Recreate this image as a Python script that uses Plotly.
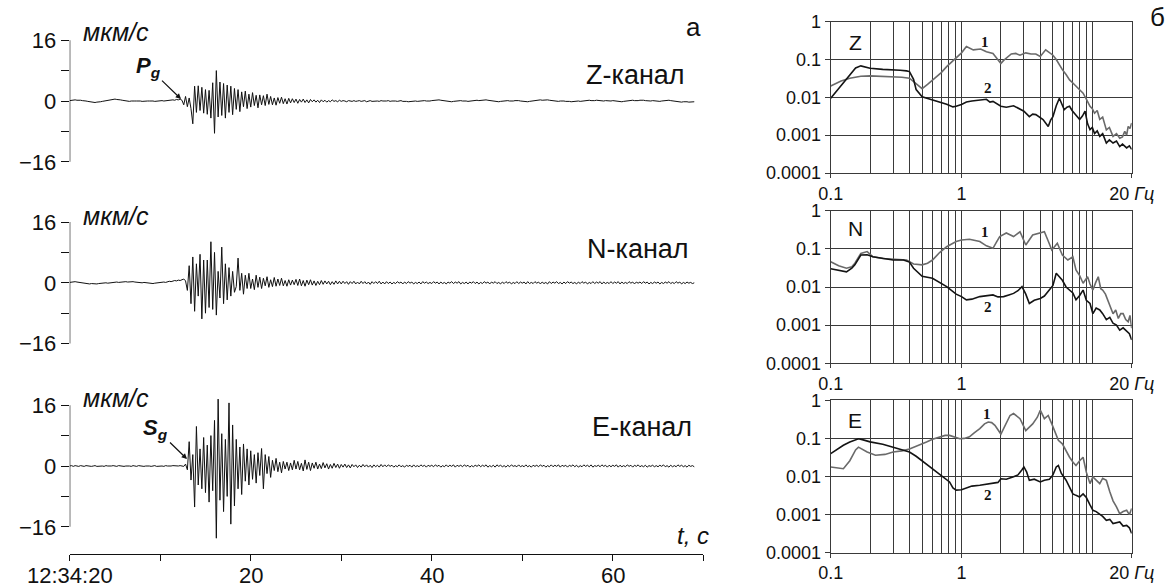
import numpy as np
import plotly.graph_objects as go

W, H = 1173, 587
DT = 0.2

# ---------------- seismograms (мкм/с), one value every 0.2 s from 12:34:20 ----------------
z_vel = [
    0.1, 0.2, 0.3, 0.3, 0.2, 0.3, 0.2, 0.1, 0.1, 0.0, -0.1, -0.2, -0.3, -0.4, -0.4, -0.3, -0.3, -0.2, -0.1, 0.0, 0.1, 0.2, 0.3, 0.4, 0.4,
    0.5, 0.4, 0.4, 0.3, 0.2, 0.1, 0.0, 0.0, -0.1, 0.0, -0.1, 0.0, 0.0, 0.1, 0.0, -0.1, 0.0, 0.1, 0.0, 0.0, 0.1, 0.0, -0.1, 0.0, 0.1,
    0.0, 0.1, 0.0, 0.1, 0.2, 0.1, 0.2, 0.3, 0.2, 0.4, 0.3, 0.5, 0.2, -1.0, 1.2, -1.5, 0.8, -2.0, -6.0, 3.9, -3.0, 4.0, -2.5, 3.6, -3.2,
    3.0, -3.5, 2.8, -4.5, 4.8, -8.5, 8.0, -4.2, 5.0, -3.8, 4.6, -4.5, 4.2, -3.0, 3.9, -3.6, 3.3, -2.2, 3.0, -2.8, 2.4, -1.5, 2.6, -2.0, 1.8,
    -1.6, 2.2, -1.2, 1.5, -1.8, 1.6, -1.0, 1.4, -1.2, 1.8, -0.9, 1.2, -1.0, 0.8, -1.1, 0.9, -0.6, 1.0, -0.7, 0.6, -0.8, 0.7, -0.5, 0.6, -0.4,
    0.5, -0.6, 0.4, -0.3, 0.5, -0.4, 0.3, -0.5, 0.4, -0.2, 0.3, -0.3, 0.2, -0.4, 0.3, -0.2, 0.2, -0.3, 0.1, -0.2, 0.3, -0.1, 0.1, -0.2, 0.2,
    -0.1, 0.1, 0.0, -0.2, 0.1, 0.0, -0.1, 0.1, -0.1, 0.0, 0.1, -0.1, 0.0, 0.1, -0.2, 0.0, 0.1, -0.1, 0.0, 0.1, 0.0, -0.1, 0.1, 0.0, -0.1,
    0.0, 0.1, -0.1, 0.0, 0.1, 0.0, -0.1, 0.0, 0.1, -0.1, 0.0, -0.1, -0.2, -0.1, -0.2, -0.1, 0.0, -0.1, 0.0, 0.1, 0.0, 0.1, 0.0, -0.1, 0.0,
    0.1, 0.2, 0.1, 0.2, 0.3, 0.2, 0.1, 0.0, -0.1, 0.0, -0.1, -0.2, -0.1, 0.0, -0.1, 0.0, 0.1, 0.0, 0.1, 0.0, -0.1, 0.0, 0.1, 0.0, 0.1,
    0.2, 0.1, 0.2, 0.3, 0.2, 0.3, 0.2, 0.1, 0.0, -0.1, -0.2, -0.1, -0.2, -0.1, 0.0, -0.1, 0.0, 0.1, 0.0, -0.1, 0.0, 0.1, 0.2, 0.1, 0.0,
    -0.1, 0.0, -0.1, -0.2, -0.1, 0.0, 0.1, 0.0, 0.1, 0.2, 0.3, 0.2, 0.3, 0.4, 0.3, 0.2, 0.1, 0.0, -0.1, 0.0, -0.1, 0.0, 0.1, 0.0, -0.1,
    0.0, -0.1, -0.2, -0.1, 0.0, 0.1, 0.0, -0.1, 0.0, 0.1, 0.0, 0.1, 0.2, 0.1, 0.0, 0.1, 0.2, 0.1, 0.0, -0.1, 0.0, 0.1, 0.0, -0.1, 0.0,
    0.1, 0.0, -0.1, -0.2, -0.1, -0.2, -0.1, 0.0, 0.1, 0.0, 0.1, 0.2, 0.1, 0.0, 0.1, 0.2, 0.3, 0.2, 0.1, 0.0, -0.1, 0.0, 0.1, 0.0, -0.1,
    -0.2, -0.1, 0.0, 0.1, 0.0, 0.1, 0.2, 0.1, 0.0, -0.1, 0.0, -0.1, -0.2, -0.3, -0.2, -0.1, -0.2, -0.3, -0.2, -0.1, -0.2,
]

n_vel = [
    0.1, 0.2, 0.1, 0.3, 0.2, 0.1, 0.0, -0.1, 0.0, -0.1, -0.2, -0.3, -0.2, -0.3, -0.2, -0.3, -0.2, -0.1, -0.2, -0.1, 0.0, -0.1, 0.0, 0.1, 0.0,
    0.1, 0.2, 0.1, 0.2, 0.3, 0.2, 0.3, 0.2, 0.3, 0.2, 0.3, 0.2, 0.1, 0.2, 0.1, 0.0, 0.1, 0.0, -0.1, -0.2, -0.1, -0.2, -0.1, 0.0, -0.1,
    0.0, 0.1, 0.2, 0.1, 0.3, 0.4, 0.3, 0.5, 0.6, 0.5, 0.7, 0.6, 0.8, 1.0, 0.5, -2.0, 4.5, -5.5, 6.8, -7.5, 5.0, -3.5, 7.5, -9.5, 6.0,
    -8.0, 6.0, -6.5, 10.8, -7.0, 8.0, -8.5, 3.0, -4.0, 9.4, -5.5, 5.0, -4.5, 4.0, -3.5, 3.0, -2.5, -1.0, 6.5, -2.0, 2.5, -3.0, 2.0, -1.5, 2.5,
    -1.5, 1.0, -1.8, 2.0, -1.2, 1.5, -1.5, 1.2, -0.8, 1.6, -1.2, 0.8, -1.0, 1.4, -0.9, 1.0, -0.7, 1.2, -0.8, 0.6, -0.9, 0.8, -0.6, 0.7, -0.5,
    0.9, -0.7, 1.0, -0.8, 0.6, -0.9, 0.7, -0.5, 0.8, -0.6, 0.5, -0.7, 0.4, -0.5, 0.6, -0.4, 0.5, -0.3, 0.4, -0.5, 0.3, -0.4, 0.5, -0.3, 0.4,
    -0.3, 0.4, -0.2, 0.3, -0.4, 0.3, -0.2, 0.4, -0.3, 0.2, -0.3, 0.4, -0.2, 0.3, -0.3, 0.2, -0.4, 0.3, -0.2, 0.3, -0.2, 0.4, -0.3, 0.2, -0.3,
    0.3, -0.2, 0.2, -0.3, 0.1, -0.2, 0.3, -0.1, 0.2, -0.3, 0.2, -0.2, 0.3, -0.1, 0.2, -0.3, 0.1, -0.2, 0.2, -0.3, 0.3, -0.1, 0.2, -0.2, 0.1,
    -0.2, 0.3, -0.1, 0.2, -0.3, 0.2, -0.2, 0.1, -0.3, 0.2, -0.1, 0.3, -0.2, 0.2, -0.1, 0.3, -0.3, 0.1, -0.2, 0.2, -0.3, 0.2, -0.1, 0.3, -0.2,
    0.2, -0.3, 0.1, -0.2, 0.3, -0.1, 0.2, -0.3, 0.2, -0.1, 0.3, -0.2, 0.1, -0.3, 0.2, -0.2, 0.3, -0.1, 0.2, -0.3, 0.1, -0.2, 0.3, -0.2, 0.2,
    -0.1, 0.2, -0.3, 0.3, -0.2, 0.1, -0.2, 0.3, -0.1, 0.2, -0.3, 0.2, -0.2, 0.1, -0.3, 0.3, -0.2, 0.2, -0.1, 0.3, -0.2, 0.1, -0.3, 0.2, -0.2,
    0.3, -0.1, 0.2, -0.2, 0.1, -0.3, 0.2, -0.2, 0.3, -0.1, 0.2, -0.3, 0.1, -0.2, 0.3, -0.2, 0.2, -0.1, 0.3, -0.3, 0.2, -0.2, 0.1, -0.2, 0.3,
    -0.2, 0.2, -0.1, 0.3, -0.3, 0.2, -0.2, 0.1, -0.2, 0.3, -0.1, 0.2, -0.3, 0.2, -0.1, 0.2, -0.2, 0.3, -0.1, 0.2, -0.3, 0.1, -0.2, 0.2, -0.1,
    0.2, -0.3, 0.1, -0.2, 0.2, -0.1, 0.3, -0.2, 0.1, -0.2, 0.3, -0.1, 0.2, -0.3, 0.1, -0.2, 0.2, -0.1, 0.1, -0.2, 0.0,
]

e_vel = [
    0.0, 0.1, -0.1, 0.1, 0.0, -0.1, 0.1, 0.0, -0.1, 0.1, 0.0, 0.1, -0.1, 0.0, 0.1, -0.1, 0.0, 0.1, 0.0, -0.1, 0.1, 0.0, -0.1, 0.0, 0.1,
    0.0, -0.1, 0.1, 0.0, 0.1, -0.1, 0.0, 0.1, 0.0, -0.1, 0.1, 0.0, -0.1, 0.1, 0.0, 0.1, -0.1, 0.0, 0.1, 0.0, -0.1, 0.0, 0.1, -0.1, 0.0,
    0.1, 0.0, -0.1, 0.1, 0.0, -0.1, 0.0, 0.1, 0.0, -0.1, 0.0, 0.1, 0.0, -0.1, 0.5, -1.0, 6.4, -3.7, 3.0, -10.8, 10.4, -5.0, 4.5, -6.0, 7.5,
    -7.0, 5.5, -9.5, 8.0, -6.5, 12.0, -19.0, 17.6, -9.0, 8.5, -12.0, 7.0, -8.0, 16.6, -15.3, 10.8, -10.5, 7.0, -6.0, 5.0, -7.5, 5.8, -4.0, 4.5, -5.0,
    4.0, -3.5, 3.0, -4.5, 3.5, -2.5, 4.6, -6.0, 3.0, -2.0, 2.5, -3.0, 1.5, -1.2, 2.0, -1.5, 1.0, -1.8, 1.2, -0.8, 1.0, -1.2, 0.8, -1.0, 1.5,
    -0.8, 1.2, -1.0, 0.7, -1.3, 1.6, -0.9, 1.0, -1.2, 0.8, -0.6, 1.0, -0.8, 0.5, -0.7, 0.9, -0.5, 0.6, -0.8, 0.4, -0.6, 0.7, -0.4, 0.5, -0.6,
    0.4, -0.3, 0.5, -0.4, 0.3, -0.5, 0.4, -0.2, 0.3, -0.4, 0.2, -0.3, 0.4, -0.2, 0.3, -0.3, 0.2, -0.4, 0.3, -0.2, 0.2, -0.3, 0.4, -0.2, 0.3,
    -0.2, 0.3, -0.1, 0.2, -0.3, 0.1, -0.2, 0.3, -0.2, 0.1, -0.3, 0.2, -0.1, 0.2, -0.3, 0.3, -0.2, 0.1, -0.2, 0.3, -0.1, 0.2, -0.3, 0.2, -0.1,
    0.2, -0.2, 0.3, -0.1, 0.2, -0.3, 0.1, -0.2, 0.3, -0.2, 0.2, -0.1, 0.3, -0.3, 0.2, -0.1, 0.2, -0.2, 0.3, -0.1, 0.2, -0.3, 0.1, -0.2, 0.2,
    -0.1, 0.3, -0.2, 0.2, -0.1, 0.3, -0.3, 0.1, -0.2, 0.2, -0.3, 0.3, -0.1, 0.2, -0.2, 0.1, -0.3, 0.2, -0.2, 0.3, -0.1, 0.1, -0.2, 0.3, -0.2,
    0.1, -0.2, 0.3, -0.2, 0.1, -0.3, 0.2, -0.1, 0.2, -0.2, 0.3, -0.1, 0.2, -0.3, 0.1, -0.2, 0.3, -0.2, 0.2, -0.1, 0.3, -0.3, 0.2, -0.1, 0.2,
    -0.3, 0.2, -0.1, 0.3, -0.2, 0.2, -0.3, 0.1, -0.2, 0.3, -0.1, 0.2, -0.2, 0.3, -0.3, 0.1, -0.1, 0.2, -0.2, 0.3, -0.1, 0.2, -0.3, 0.2, -0.2,
    0.2, -0.1, 0.3, -0.3, 0.2, -0.2, 0.1, -0.2, 0.3, -0.1, 0.2, -0.3, 0.2, -0.1, 0.3, -0.2, 0.1, -0.2, 0.2, -0.3, 0.1, -0.1, 0.2, -0.2, 0.1,
    -0.2, 0.2, -0.1, 0.3, -0.2, 0.1, -0.3, 0.2, -0.2, 0.1, -0.2, 0.3, -0.1, 0.2, -0.2, 0.1, -0.3, 0.2, -0.1, 0.1, -0.2,
]

t_label_ticks = [0, 20, 40, 60]
t_ticklabels = ["12:34:20", "20", "40", "60"]
t_minor_ticks = [10, 30, 50, 70]
v_label_ticks = [-16, 0, 16]
v_ticklabels = ["\u221216", "0", "16"]
v_minor_ticks = [-8, 8]

# ---------------- spectra: 1 = signal, 2 = noise ----------------
z_f1 = [0.10, 0.12, 0.14, 0.17, 0.20, 0.25, 0.30, 0.35, 0.40, 0.45, 0.50, 0.55, 0.60, 0.70, 0.77, 0.85, 0.91, 1.0, 1.09, 1.15,
        1.23, 1.40, 1.55, 1.74, 1.85, 2.0, 2.1, 2.2, 2.4, 2.6, 2.8, 3.1, 3.4, 3.7, 4.0, 4.4, 4.7, 5.0, 5.3, 5.5,
        5.9, 6.3, 6.7, 7.1, 7.5, 8.0, 8.5, 9.0, 9.6, 10.0, 10.4, 10.9, 11.4, 12.0, 12.8, 13.5, 14.4, 15.3, 16.2, 17.0,
        17.7, 18.3, 18.8, 19.4, 20.0]
z_a1 = [0.020, 0.027, 0.032, 0.036, 0.037, 0.036, 0.035, 0.034, 0.032, 0.023, 0.017, 0.022, 0.029, 0.045, 0.065, 0.090, 0.107, 0.150, 0.22, 0.20,
        0.18, 0.19, 0.16, 0.145, 0.11, 0.079, 0.095, 0.107, 0.14, 0.145, 0.13, 0.15, 0.14, 0.14, 0.12, 0.18, 0.15, 0.13, 0.10, 0.079,
        0.054, 0.040, 0.029, 0.024, 0.0195, 0.016, 0.0129, 0.009, 0.0058, 0.0050, 0.0038, 0.0045, 0.0026, 0.0030, 0.00138, 0.0016, 0.00093, 0.0011, 0.00083, 0.0009,
        0.00126, 0.0010, 0.0017, 0.0015, 0.0021]
z_f2 = [0.10, 0.118, 0.14, 0.155, 0.17, 0.185, 0.20, 0.25, 0.30, 0.34, 0.38, 0.40, 0.43, 0.45, 0.50, 0.55, 0.60, 0.70, 0.77, 0.86,
        0.91, 1.0, 1.09, 1.2, 1.38, 1.55, 1.65, 1.74, 2.0, 2.2, 2.5, 2.7, 3.0, 3.3, 3.5, 3.7, 4.0, 4.2, 4.6, 4.8,
        5.0, 5.3, 5.6, 5.8, 6.1, 6.4, 6.7, 7.0, 7.3, 7.7, 8.0, 8.4, 8.8, 9.2, 9.6, 10.0, 10.4, 10.9, 11.4, 12.0,
        12.8, 13.5, 14.4, 15.3, 16.2, 17.0, 18.3, 19.2, 20.0]
z_a2 = [0.0095, 0.019, 0.039, 0.060, 0.068, 0.062, 0.059, 0.055, 0.054, 0.052, 0.050, 0.048, 0.030, 0.016, 0.0104, 0.0095, 0.0085, 0.0075, 0.0066, 0.0056,
        0.0058, 0.0065, 0.0075, 0.0080, 0.0085, 0.0089, 0.0075, 0.0078, 0.0058, 0.0055, 0.0060, 0.0052, 0.0043, 0.0031, 0.0036, 0.0035, 0.0030, 0.0026, 0.0017, 0.0025,
        0.0031, 0.0060, 0.0095, 0.0070, 0.0047, 0.0055, 0.0058, 0.0045, 0.0038, 0.0030, 0.0026, 0.0032, 0.0043, 0.0020, 0.0014, 0.0016, 0.0011, 0.0013, 0.00093, 0.0011,
        0.00062, 0.00075, 0.00062, 0.00070, 0.00050, 0.00058, 0.00046, 0.00052, 0.00042]

n_f1 = [0.10, 0.115, 0.132, 0.145, 0.153, 0.17, 0.19, 0.21, 0.25, 0.30, 0.38, 0.43, 0.50, 0.55, 0.60, 0.68, 0.77, 0.91, 1.0, 1.15,
        1.38, 1.55, 1.74, 1.85, 1.96, 2.2, 2.5, 2.8, 3.1, 3.5, 4.0, 4.3, 4.6, 4.9, 5.4, 5.9, 6.5, 7.1, 7.5, 8.0,
        8.5, 9.2, 9.6, 10.1, 10.6, 11.1, 11.6, 12.0, 12.6, 13.1, 13.8, 14.4, 15.1, 15.8, 16.5, 17.2, 18.0, 18.8, 19.4, 20.0]
n_a1 = [0.046, 0.036, 0.031, 0.034, 0.042, 0.076, 0.085, 0.062, 0.056, 0.053, 0.051, 0.040, 0.038, 0.042, 0.051, 0.080, 0.114, 0.155, 0.170, 0.178,
        0.155, 0.12, 0.103, 0.15, 0.21, 0.26, 0.21, 0.28, 0.126, 0.23, 0.26, 0.28, 0.16, 0.093, 0.14, 0.069, 0.051, 0.062, 0.028, 0.020,
        0.0125, 0.0186, 0.012, 0.0083, 0.013, 0.0186, 0.009, 0.0083, 0.0065, 0.0046, 0.0030, 0.0020, 0.0025, 0.0015, 0.0020, 0.0020, 0.0014, 0.00123, 0.0018, 0.00083]
n_f2 = [0.10, 0.115, 0.132, 0.145, 0.153, 0.17, 0.19, 0.21, 0.25, 0.30, 0.36, 0.40, 0.43, 0.50, 0.60, 0.68, 0.77, 0.91, 1.0, 1.09,
        1.2, 1.38, 1.55, 1.74, 1.9, 2.1, 2.3, 2.5, 2.7, 2.9, 3.1, 3.3, 3.6, 4.0, 4.3, 4.7, 5.0, 5.3, 5.6, 5.9,
        6.3, 6.7, 7.1, 7.5, 8.0, 8.5, 9.0, 9.6, 10.1, 10.7, 11.4, 12.0, 12.8, 13.6, 14.4, 15.3, 16.2, 17.2, 18.3, 19.2, 20.0]
n_a2 = [0.030, 0.027, 0.025, 0.031, 0.038, 0.069, 0.070, 0.062, 0.056, 0.051, 0.051, 0.045, 0.031, 0.019, 0.017, 0.013, 0.0102, 0.0065, 0.0056, 0.0046,
        0.0048, 0.0056, 0.0060, 0.0062, 0.0055, 0.0056, 0.0062, 0.0068, 0.0080, 0.0102, 0.0065, 0.0037, 0.0045, 0.0050, 0.0058, 0.0083, 0.0110, 0.023, 0.018, 0.015,
        0.0100, 0.0083, 0.0070, 0.0046, 0.0060, 0.0083, 0.0045, 0.0037, 0.0020, 0.0028, 0.0025, 0.0020, 0.0014, 0.0016, 0.00112, 0.0010, 0.00074, 0.00085, 0.00068, 0.00060, 0.00041]

e_f1 = [0.10, 0.115, 0.125, 0.14, 0.155, 0.163, 0.175, 0.19, 0.22, 0.26, 0.30, 0.35, 0.40, 0.47, 0.54, 0.60, 0.68, 0.75, 0.81, 0.90,
        0.97, 1.05, 1.15, 1.25, 1.38, 1.5, 1.6, 1.7, 1.8, 2.0, 2.2, 2.35, 2.5, 2.8, 3.1, 3.3, 3.5, 3.8, 4.0, 4.3,
        4.6, 4.9, 5.2, 5.5, 5.9, 6.3, 6.7, 7.1, 7.5, 8.0, 8.5, 9.0, 9.6, 10.1, 10.7, 11.4, 12.0, 12.8, 13.6, 14.4,
        15.3, 16.2, 17.2, 18.3, 19.2, 20.0]
e_a1 = [0.0178, 0.017, 0.016, 0.026, 0.050, 0.059, 0.052, 0.044, 0.036, 0.038, 0.044, 0.047, 0.053, 0.065, 0.081, 0.095, 0.11, 0.12, 0.12, 0.105,
        0.098, 0.10, 0.11, 0.14, 0.18, 0.24, 0.27, 0.26, 0.22, 0.13, 0.24, 0.40, 0.45, 0.33, 0.16, 0.20, 0.24, 0.36, 0.55, 0.33,
        0.40, 0.24, 0.15, 0.089, 0.072, 0.045, 0.032, 0.024, 0.0195, 0.026, 0.032, 0.013, 0.0065, 0.0098, 0.0080, 0.0065, 0.0090, 0.0079, 0.0040, 0.0023,
        0.0016, 0.00105, 0.0012, 0.0013, 0.0010, 0.00145]
e_f2 = [0.10, 0.115, 0.125, 0.14, 0.163, 0.18, 0.20, 0.25, 0.30, 0.35, 0.40, 0.45, 0.50, 0.55, 0.60, 0.68, 0.75, 0.81, 0.86, 0.91,
        1.0, 1.09, 1.2, 1.38, 1.55, 1.74, 1.9, 2.0, 2.2, 2.5, 2.7, 2.9, 3.0, 3.15, 3.3, 3.6, 4.0, 4.3, 4.7, 5.0,
        5.3, 5.5, 5.8, 6.3, 6.7, 7.1, 7.5, 8.0, 8.5, 9.0, 9.6, 10.1, 10.7, 11.4, 12.0, 12.8, 13.6, 14.4, 15.3, 16.2,
        17.2, 18.3, 19.2, 20.0]
e_a2 = [0.040, 0.055, 0.066, 0.080, 0.098, 0.090, 0.081, 0.070, 0.059, 0.050, 0.044, 0.034, 0.026, 0.020, 0.016, 0.0117, 0.0090, 0.0072, 0.0050, 0.0044,
        0.0045, 0.0050, 0.0056, 0.0059, 0.0062, 0.0065, 0.0070, 0.0087, 0.0085, 0.0098, 0.0110, 0.0150, 0.0178, 0.0130, 0.0079, 0.0085, 0.0072, 0.0080, 0.0085, 0.0110,
        0.0178, 0.0195, 0.0120, 0.0080, 0.0050, 0.0035, 0.0032, 0.0029, 0.0035, 0.0028, 0.0018, 0.0013, 0.0012, 0.00105, 0.0009, 0.00071, 0.00075, 0.00058, 0.00062, 0.00064,
        0.00050, 0.00052, 0.00045, 0.00032]

f_label_vals = [0.1, 1, 20]
f_label_text = ["0.1", "1", "20 <i>Гц</i>"]
f_grid_vals = [0.2, 0.3, 0.4, 0.5, 0.6, 0.7, 0.8, 0.9, 2, 3, 4, 5, 6, 7, 8, 9, 10]
a_ticks = [0.0001, 0.001, 0.01, 0.1, 1]
a_ticklabels = ["0.0001", "0.001", "0.01", "0.1", "1"]

# ---------------- layout helpers ----------------
FONT = "Liberation Sans, Arial, sans-serif"
INK = "#111111"


def px(x, y):
    return x / W, 1 - y / H


SEIS_X = [69.7 / W, 703.3 / W]
SPEC_X = [830.7 / W, 1131.7 / W]
SCALE = 3.8  # px per мкм/с
AXIS_Y = 554.0  # px of the time axis

fig = go.Figure()

seis = [  # (values, zero-line px, bottom range)
    (z_vel, 101.0, -23.5),
    (n_vel, 282.8, -23.5),
    (e_vel, 466.0, -(AXIS_Y - 466.0) / SCALE),
]

layout = dict(
    template="none",
    width=W, height=H, margin=dict(l=0, r=0, t=0, b=0, pad=0, autoexpand=False),
    paper_bgcolor="white", plot_bgcolor="white", showlegend=False,
    font=dict(family=FONT, color=INK),
)

shapes = []
for i, (vals, y0px, rbot) in enumerate(seis, start=1):
    t = np.arange(len(vals)) * DT
    xa = "x" if i == 1 else f"x{i}"
    ya = "y" if i == 1 else f"y{i}"
    fig.add_trace(go.Scatter(x=t, y=vals, mode="lines", line=dict(color=INK, width=1),
                             xaxis=xa, yaxis=ya, hoverinfo="skip"))
    rtop = 23.5
    top_px = y0px - rtop * SCALE
    bot_px = y0px - rbot * SCALE
    xkey = "xaxis" if i == 1 else f"xaxis{i}"
    ykey = "yaxis" if i == 1 else f"yaxis{i}"
    xdict = dict(domain=SEIS_X, range=[0, 70], anchor=ya, showgrid=False, zeroline=False,
                 showline=False, ticks="", showticklabels=False, automargin=False)
    if i == 3:
        xdict.update(showline=True, linecolor=INK, linewidth=1.2, ticks="outside", ticklen=6,
                     tickwidth=1.2, tickcolor=INK, tickmode="array", tickvals=t_label_ticks,
                     showticklabels=False,
                     minor=dict(tickmode="array", tickvals=t_minor_ticks, ticks="outside",
                                ticklen=6, tickwidth=1.2, tickcolor=INK, showgrid=False))
    layout[xkey] = xdict
    layout[ykey] = dict(domain=[1 - bot_px / H, 1 - top_px / H], range=[rbot, rtop], anchor=xa,
                        showgrid=False, zeroline=False, showline=False, ticks="outside", ticklen=8,
                        tickwidth=1.2, tickcolor=INK, tickmode="array", tickvals=v_label_ticks,
                        ticktext=v_ticklabels, tickfont=dict(size=22, family=FONT), automargin=False,
                        minor=dict(tickmode="array", tickvals=v_minor_ticks, ticks="outside",
                                   ticklen=8, tickwidth=1.2, tickcolor=INK, showgrid=False))
    shapes.append(dict(type="line", xref=xa, yref=ya, x0=0, x1=0, y0=-16, y1=16,
                       line=dict(color=INK, width=1.2)))

spec = [
    (z_f1, z_a1, z_f2, z_a2, 21.7, 173.0),
    (n_f1, n_a1, n_f2, n_a2, 210.7, 363.3),
    (e_f1, e_a1, e_f2, e_a2, 400.3, 552.7),
]
GRID = "#3a3a3a"
for k, (f1, a1, f2, a2, top, bot) in enumerate(spec):
    i = k + 4
    xa, ya = f"x{i}", f"y{i}"
    n1 = min(len(f1), len(a1))
    n2 = min(len(f2), len(a2))
    fig.add_trace(go.Scatter(x=f1[:n1], y=a1[:n1], mode="lines", line=dict(color="#6a6a6a", width=1.6),
                             xaxis=xa, yaxis=ya, hoverinfo="skip"))
    fig.add_trace(go.Scatter(x=f2[:n2], y=a2[:n2], mode="lines", line=dict(color="#141414", width=1.6),
                             xaxis=xa, yaxis=ya, hoverinfo="skip"))
    layout[f"xaxis{i}"] = dict(
        domain=SPEC_X, type="log", range=[-1, np.log10(20)], anchor=ya, automargin=False,
        showline=True, mirror=True, linecolor=GRID, linewidth=1.2,
        showgrid=True, gridcolor=GRID, gridwidth=1, zeroline=False,
        tickmode="array", tickvals=f_label_vals, ticktext=f_label_text,
        ticks="outside", ticklen=4, tickcolor=GRID, tickfont=dict(size=18, family=FONT),
        minor=dict(tickmode="array", tickvals=f_grid_vals, showgrid=True, gridcolor=GRID,
                   gridwidth=1, ticks=""),
    )
    layout[f"yaxis{i}"] = dict(
        domain=[1 - bot / H, 1 - top / H], type="log", range=[-4, 0], anchor=xa, automargin=False,
        showline=True, mirror=True, linecolor=GRID, linewidth=1.2,
        showgrid=True, gridcolor=GRID, gridwidth=1, zeroline=False,
        tickmode="array", tickvals=a_ticks, ticktext=a_ticklabels,
        ticks="outside", ticklen=5, tickcolor=GRID, tickfont=dict(size=18, family=FONT),
    )

layout["shapes"] = shapes

ann = []


def text(x, y, s, size, italic=False, family=FONT, xanchor="center"):
    xp, yp = px(x, y)
    if italic:
        s = f"<i>{s}</i>"
    ann.append(dict(x=xp, y=yp, xref="paper", yref="paper", text=s, showarrow=False,
                    xanchor=xanchor, yanchor="middle", font=dict(size=size, family=family, color=INK)))


# time-axis labels (placed just under the axis like the original)
for tv, tl in zip(t_label_ticks, t_ticklabels):
    ann.append(dict(x=tv, xref="x3", y=1 - 575 / H, yref="paper", text=tl, showarrow=False,
                    xanchor="center", yanchor="middle", font=dict(size=22, family=FONT, color=INK)))

# panel letters and channel names
text(693, 27, "а", 26)
text(1157, 17, "б", 26)
text(635, 75, "Z-канал", 27)
text(638, 249, "N-канал", 27)
text(642, 427, "E-канал", 27)
for yy in (32, 216, 398):
    text(116, yy, "мкм/с", 25, italic=True)
text(693, 535, "t, c", 24, italic=True)

# phase picks with arrows
for label, (tx, ty), (hx, hy) in [
    ("<b><i>P</i></b><sub><b><i>g</i></b></sub>", (148, 67), (181, 99)),
    ("<b><i>S</i></b><sub><b><i>g</i></b></sub>", (156, 429), (187, 459)),
]:
    xp, yp = px(hx, hy)
    ann.append(dict(x=xp, y=yp, xref="paper", yref="paper", text=label, showarrow=True,
                    ax=tx - hx, ay=ty - hy, arrowhead=2, arrowsize=0.9, arrowwidth=1.2,
                    arrowcolor=INK, standoff=0, font=dict(size=22, family=FONT, color=INK)))

# spectrum panel labels
for lab, (lx, ly) in zip(["Z", "N", "E"], [(855, 42), (855, 228), (855, 420)]):
    text(lx, ly, lab, 21)

SERIF = "Liberation Serif, Times New Roman, serif"
for (x1, y1), (x2, y2) in [((985, 42), (988, 88)), ((985, 232), (988, 307)), ((987, 414), (988, 495))]:
    text(x1, y1, "<b>1</b>", 15, family=SERIF)
    text(x2, y2, "<b>2</b>", 15, family=SERIF)

layout["annotations"] = ann
fig.update_layout(**layout)
fig.write_html("out.html", include_plotlyjs=True, config={"displayModeBar": False},
               post_script="document.body.style.margin='0';document.body.style.overflow='hidden';")
